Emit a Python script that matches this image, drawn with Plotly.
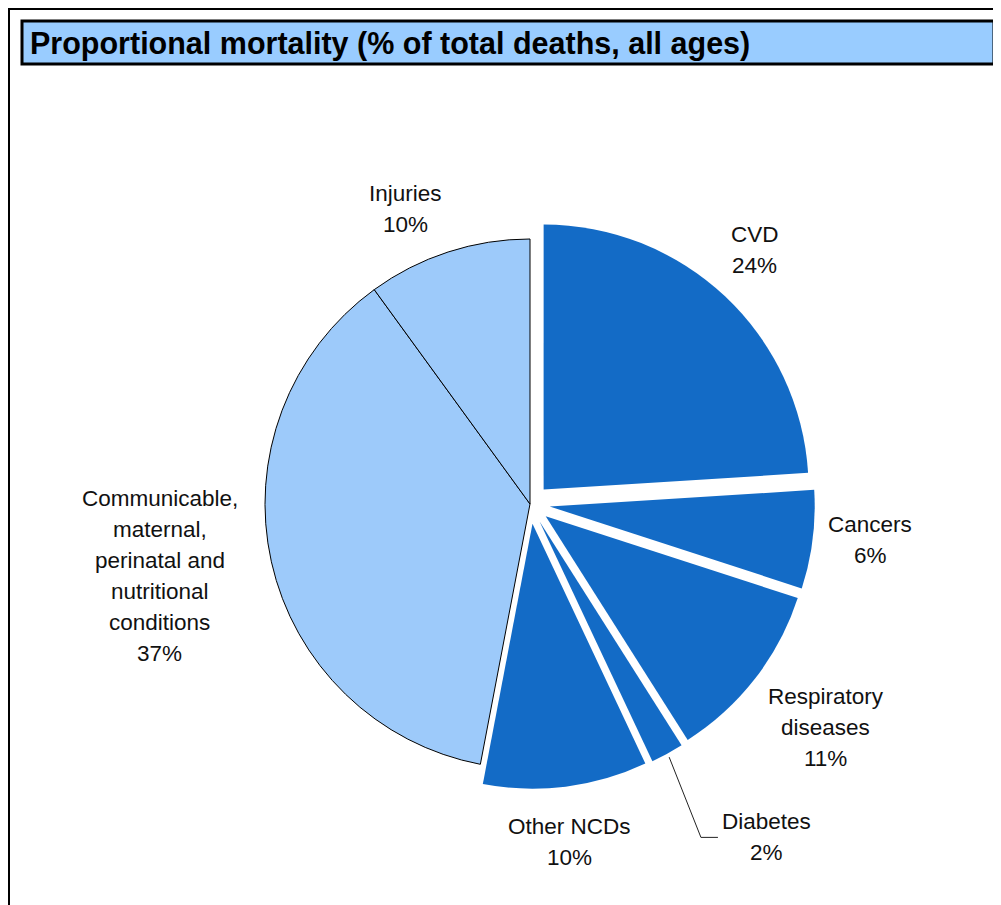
import math
import plotly.graph_objects as go

# ---------------- data ----------------
categories = [
    "CVD",
    "Cancers",
    "Respiratory<br>diseases",
    "Diabetes",
    "Other NCDs",
    "Communicable,<br>maternal,<br>perinatal and<br>nutritional<br>conditions",
    "Injuries",
]
values = [24, 6, 11, 2, 10, 37, 10]
is_ncd = [True, True, True, True, True, False, False]
title_text = "Proportional mortality (% of total deaths, all ages)"

# ---------------- style / layout ----------------
W, H = 1001, 905
OX, OY = 8, 8              # page body margin compensation
CX, CY = 530, 504          # pie centre (px, screen)
R = 265                    # pie radius (px)
PULL = 0.075
DARK = "#136BC6"
LIGHT = "#9DCAFA"
TITLE_FILL = "#99CCFF"
FONT = "Liberation Sans, Arial, Helvetica, sans-serif"
LABEL_SIZE = 22.5
LINE_H = 31
# label placement: (distance from centre in px, angular shift in degrees)
LABEL_PLACE = [(339, -1.7), (342, -1.2), (371, -0.7), (409, -6.6),
               (340, 0.5), (377, 1.6), (320, -4.8)]
LEADER = {3}


def px(x):
    return (x - OX) / W


def py(y):
    return 1 - (y - OY) / H


side = 2 * R * (1 + PULL)
dom_x = [px(CX - side / 2), px(CX + side / 2)]
dom_y = [py(CY + side / 2), py(CY - side / 2)]

fig = go.Figure(
    go.Pie(
        labels=[c.replace("<br>", " ") for c in categories],
        values=values,
        sort=False,
        direction="clockwise",
        rotation=0,
        pull=[PULL if n else 0 for n in is_ncd],
        marker=dict(
            colors=[DARK if n else LIGHT for n in is_ncd],
            line=dict(color="black", width=[0 if n else 1 for n in is_ncd]),
        ),
        textinfo="none",
        hoverinfo="label+percent",
        showlegend=False,
        domain=dict(x=dom_x, y=dom_y),
    )
)

annotations = []
shapes = []

# outer border (as close to the page corner as the figure allows)
shapes.append(dict(type="rect", xref="paper", yref="paper",
                   x0=px(9), x1=px(1030), y0=py(9), y1=py(940),
                   line=dict(color="black", width=2), fillcolor="rgba(0,0,0,0)"))
# title box
shapes.append(dict(type="rect", xref="paper", yref="paper",
                   x0=px(22), x1=px(994), y0=py(21), y1=py(64),
                   line=dict(color="black", width=3), fillcolor=TITLE_FILL, layer="below"))
annotations.append(dict(text=title_text, xref="paper", yref="paper",
                        x=px(28), y=py(43), xanchor="left", yanchor="middle",
                        showarrow=False,
                        font=dict(family=FONT, size=30.5, color="black", weight="bold")))

total = sum(values)
cum = 0
for i, (cat, v) in enumerate(zip(categories, values)):
    mid = (cum + v / 2) / total * 360
    cum += v
    dist, shift = LABEL_PLACE[i]
    ang = math.radians(mid + shift)
    lx = CX + dist * math.sin(ang)
    ly = CY - dist * math.cos(ang)
    lines = cat.split("<br>") + [f"{round(v / total * 100)}%"]
    n = len(lines)
    for k, t in enumerate(lines):
        yy = ly + (k - (n - 1) / 2) * LINE_H
        annotations.append(dict(text=t, xref="paper", yref="paper",
                                x=px(lx), y=py(yy), xanchor="center", yanchor="middle",
                                showarrow=False,
                                font=dict(family=FONT, size=LABEL_SIZE, color="#111111")))
    if i in LEADER:
        a = math.radians(mid)
        rr = R * (1 + (PULL if is_ncd[i] else 0)) + 4
        sx = CX + rr * math.sin(a)
        sy = CY - rr * math.cos(a)
        ex, ey = lx - 66, ly
        fx = lx - 49
        shapes.append(dict(type="path", xref="paper", yref="paper",
                           path=f"M {px(sx)},{py(sy)} L {px(ex)},{py(ey)} L {px(fx)},{py(ey)}",
                           line=dict(color="#222222", width=1)))

fig.update_layout(
    width=W, height=H, autosize=False,
    margin=dict(l=0, r=0, t=0, b=0),
    paper_bgcolor="white", plot_bgcolor="white",
    annotations=annotations, shapes=shapes,
)

fig.write_html("out.html")
